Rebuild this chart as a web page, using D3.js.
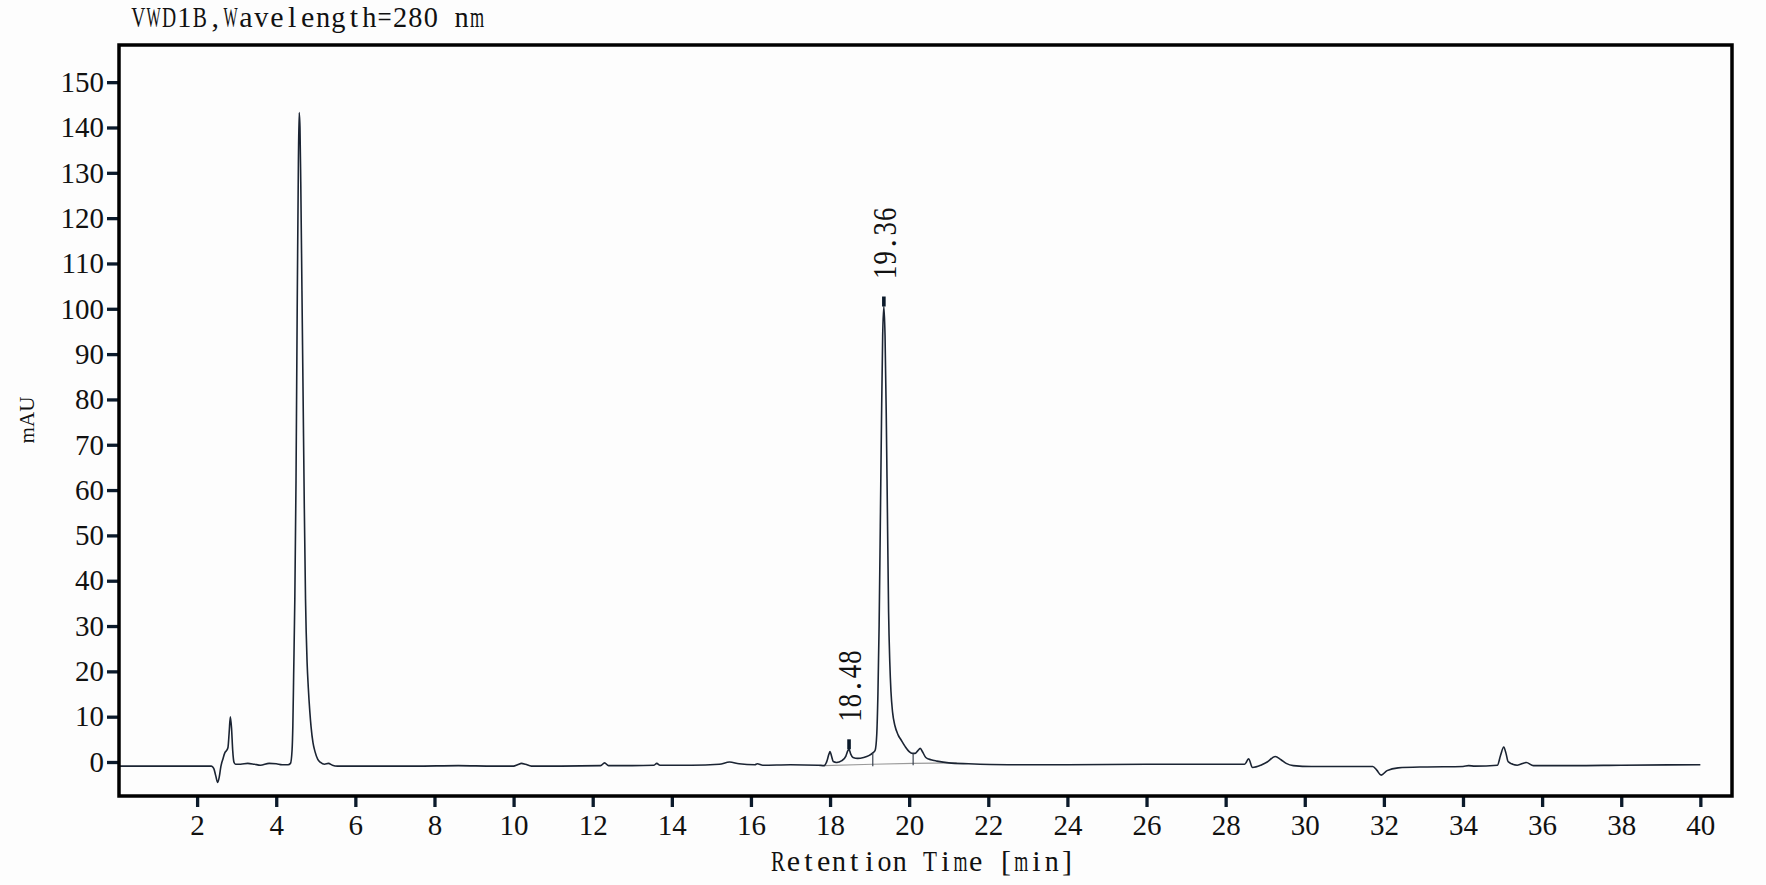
<!DOCTYPE html>
<html>
<head>
<meta charset="utf-8">
<script src="https://cdn.jsdelivr.net/npm/d3@7"></script>
<style>
  html, body { margin: 0; padding: 0; background: #fdfdfd; }
  svg { display: block; }
</style>
</head>
<body>
<div id="chart"></div>
<script>
// retention time (min) and detector signal (mAU)
const retTime = [
  0.00, 1.00, 2.00, 2.36, 2.42, 2.47, 2.52, 2.56, 2.60, 2.65, 2.70, 2.75, 2.78, 2.81, 2.84, 2.87, 2.90, 2.93, 2.97,
  3.10, 3.28, 3.45, 3.60, 3.82, 4.00, 4.15, 4.30, 4.36, 4.40, 4.42, 4.44, 4.47, 4.50, 4.53, 4.56, 4.58, 4.60,
  4.62, 4.65, 4.68, 4.71, 4.74, 4.78, 4.81, 4.85, 4.88, 4.93, 4.98, 5.05, 5.12, 5.22, 5.32, 5.42, 5.55,
  6.50, 7.50, 8.60, 9.50, 10.00, 10.10, 10.20, 10.30, 10.45, 11.20, 12.20, 12.30, 12.40, 13.00, 13.55, 13.62,
  13.70, 14.50, 15.20, 15.46, 15.70, 16.10, 16.16, 16.30, 17.00, 17.70, 17.85, 17.92, 17.97, 18.00, 18.04,
  18.08, 18.16, 18.30, 18.40, 18.45, 18.48, 18.52, 18.58, 18.70, 18.85, 18.98, 19.08, 19.14, 19.18, 19.21,
  19.24, 19.27, 19.30, 19.33, 19.36, 19.39, 19.42, 19.45, 19.48, 19.51, 19.54, 19.58, 19.64, 19.72, 19.80,
  19.90, 20.00, 20.08, 20.15, 20.22, 20.28, 20.34, 20.42, 20.55, 20.70, 21.00, 21.50, 22.50, 24.00, 26.00,
  27.50, 28.48, 28.58, 28.68, 28.89, 29.05, 29.25, 29.40, 29.53, 29.71, 30.17, 31.72, 31.82, 31.93, 32.08,
  32.36, 33.00, 34.00, 34.14, 34.30, 34.87, 34.95, 35.03, 35.09, 35.14, 35.37, 35.60, 35.78, 36.80, 38.00, 40.00
];
const signal = [
  -0.9, -0.9, -0.9, -0.9, -1.4, -3.0, -4.5, -3.3, -1.0, 0.6, 2.0, 2.6, 3.2, 6.5, 10.0, 7.5, 2.5, 0.0, -0.5,
  -0.5, -0.3, -0.5, -0.7, -0.3, -0.4, -0.6, -0.6, -0.3, 2.6, 8, 19, 36, 62, 100, 132, 143.3, 140,
  128, 104, 80, 56, 36, 22, 16.5, 11, 7.8, 4.2, 2.3, 0.6, -0.1, -0.5, -0.3, -0.7, -0.9,
  -0.9, -0.9, -0.8, -0.9, -0.9, -0.6, -0.3, -0.5, -0.9, -0.9, -0.8, -0.2, -0.8, -0.8, -0.7, -0.3,
  -0.7, -0.7, -0.5, 0.0, -0.4, -0.6, -0.4, -0.7, -0.6, -0.7, -0.8, 0.2, 1.7, 2.3, 1.2,
  0.1, -0.1, 0.3, 1.3, 2.5, 2.8, 1.8, 1.0, 0.8, 1.0, 1.4, 2.0, 2.6, 6, 15,
  30, 52, 75, 94, 100.5, 94, 77, 55, 33, 22, 15.5, 11, 8.0, 6.0, 4.8,
  3.4, 2.3, 1.9, 1.9, 2.5, 3.0, 2.2, 1.0, 0.5, 0.2, -0.2, -0.4, -0.6, -0.6, -0.5,
  -0.5, -0.5, 0.7, -1.2, -0.7, 0.0, 1.2, 0.5, -0.3, -0.8, -1.0, -1.0, -1.8, -2.9, -1.9,
  -1.3, -1.1, -1.0, -0.8, -0.9, -0.7, 1.5, 3.3, 1.8, 0.1, -0.7, -0.1, -0.8, -0.8, -0.7, -0.6
];

const xTicks = [2, 4, 6, 8, 10, 12, 14, 16, 18, 20, 22, 24, 26, 28, 30, 32, 34, 36, 38, 40];
const yTicks = [0, 10, 20, 30, 40, 50, 60, 70, 80, 90, 100, 110, 120, 130, 140, 150];

// labelled peaks
const peakTimes = [18.48, 19.36];
const peakHeights = [2.8, 100.5];
const peakLabels = ["18.48", "19.36"];

// integration baseline and peak start/end marks
const baseTime = [17.85, 19.08, 20.10, 21.20];
const baseLevel = [-0.8, -0.5, -0.3, -0.2];
const markTime = [19.08, 20.10];
const markLow = [-0.5, -0.3];
const markHigh = [2.0, 1.9];

const titleText = "VWD1B,Wavelength=280 nm";
const xTitle = "Retention Time [min]";
const yTitle = "mAU";

const W = 1766, H = 885;
const frame = { left: 119, top: 45, right: 1732, bottom: 796 };

const svg = d3.select("#chart").append("svg")
  .attr("width", W)
  .attr("height", H);

svg.append("rect").attr("width", W).attr("height", H).attr("fill", "#fdfdfd");

const x = d3.scaleLinear().domain([0, 40.8]).range([118, 1732]);
const y = d3.scaleLinear().domain([-7.5, 158.2]).range([frame.bottom, frame.top]);

// fixed-pitch text, one glyph per cell, squeezed (scaleX) when wider than the cell
function monoText(g, str, x0, yb, pitch, size) {
  str.split("").forEach((c, i) => {
    if (c === " ") return;
    const cx = x0 + pitch * (i + 0.5);
    const t = g.append("text")
      .attr("x", 0)
      .attr("y", 0)
      .attr("text-anchor", "middle")
      .style("font-family", "'Liberation Serif', serif")
      .style("font-size", size + "px")
      .style("fill", "#111")
      .text(c);
    const w = t.node().getComputedTextLength();
    const k = Math.min(1, (pitch * 0.92) / w);
    t.attr("transform", `translate(${cx},${yb}) scale(${k},1)`);
  });
}

// title
monoText(svg.append("g"), titleText, 130.5, 27, 15.4, 30);

// axes
const yAxis = svg.append("g")
  .attr("transform", `translate(${frame.left},0)`)
  .call(d3.axisLeft(y).tickValues(yTicks).tickSize(12).tickPadding(3));
const xAxis = svg.append("g")
  .attr("transform", `translate(0,${frame.bottom})`)
  .call(d3.axisBottom(x).tickValues(xTicks).tickSize(11).tickPadding(7).tickFormat(d3.format("d")));

[yAxis, xAxis].forEach(a => {
  a.select(".domain").remove();
  a.selectAll(".tick line").attr("stroke", "#0b1a2b").attr("stroke-width", 3.3);
  a.selectAll(".tick text")
    .style("font-family", "'Liberation Serif', serif")
    .style("font-size", "29px")
    .attr("fill", "#111");
});

// plot area
svg.append("clipPath").attr("id", "clip")
  .append("rect")
  .attr("x", frame.left).attr("y", frame.top)
  .attr("width", frame.right - frame.left).attr("height", frame.bottom - frame.top);

const plot = svg.append("g").attr("clip-path", "url(#clip)");

// integration baseline
plot.append("path")
  .datum(d3.zip(baseTime, baseLevel))
  .attr("fill", "none")
  .attr("stroke", "#9a9a9a")
  .attr("stroke-width", 1.2)
  .attr("d", d3.line().x(d => x(d[0])).y(d => y(d[1])));

// trace
plot.append("path")
  .datum(d3.zip(retTime, signal))
  .attr("fill", "none")
  .attr("stroke", "#1b2433")
  .attr("stroke-width", 1.6)
  .attr("stroke-linejoin", "round")
  .attr("d", d3.line().curve(d3.curveMonotoneX).x(d => x(d[0])).y(d => y(d[1])));

// peak start / end marks
plot.selectAll(".mark")
  .data(markTime)
  .enter().append("line")
  .attr("x1", d => x(d)).attr("x2", d => x(d))
  .attr("y1", (d, i) => y(markLow[i]) + 2)
  .attr("y2", (d, i) => y(markHigh[i]))
  .attr("stroke", "#3a4250")
  .attr("stroke-width", 1.2);

// apex markers and retention-time labels
peakTimes.forEach((t, i) => {
  const px = x(t), py = y(peakHeights[i]);
  plot.append("rect")
    .attr("x", px - 1.8).attr("y", py - 10)
    .attr("width", 3.6).attr("height", 10)
    .attr("fill", "#0b1a2b");
  const g = svg.append("g")
    .attr("transform", `translate(${px},${py - 27}) rotate(-90)`);
  monoText(g, peakLabels[i], 0, 0.35 * 34, 14.5, 34);
});

// frame
svg.append("rect")
  .attr("x", frame.left).attr("y", frame.top)
  .attr("width", frame.right - frame.left).attr("height", frame.bottom - frame.top)
  .attr("fill", "none")
  .attr("stroke", "#000")
  .attr("stroke-width", 3.5);

// axis titles
monoText(svg.append("g"), xTitle, 770.5, 871, 15.2, 30);

svg.append("text")
  .attr("transform", "translate(34,420) rotate(-90)")
  .attr("text-anchor", "middle")
  .attr("textLength", 47)
  .attr("lengthAdjust", "spacingAndGlyphs")
  .style("font-family", "'Liberation Serif', serif")
  .style("font-size", "20px")
  .style("fill", "#111")
  .text(yTitle);
</script>
</body>
</html>
